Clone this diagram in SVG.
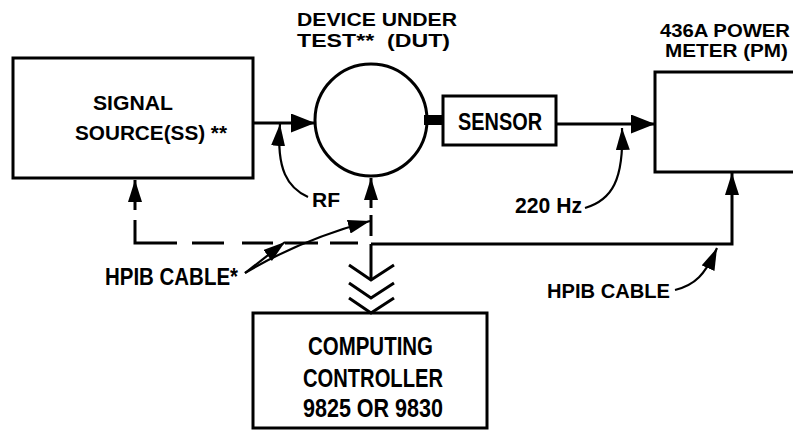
<svg xmlns="http://www.w3.org/2000/svg" width="793" height="431" viewBox="0 0 793 431">
<style>
.box{fill:none;stroke:#000;stroke-width:3}
.ln{fill:none;stroke:#000;stroke-width:3}
.thin{fill:none;stroke:#000;stroke-width:2.2}
.t{font-family:"Liberation Sans",Arial,sans-serif;font-weight:bold;fill:#000}
</style>
<defs>
<marker id="big" viewBox="0 0 24 19" refX="24" refY="9.5" markerWidth="24" markerHeight="19" markerUnits="userSpaceOnUse" orient="auto"><path d="M0,0 L24,9.5 L0,19 z" fill="#000"/></marker>
<marker id="sm" viewBox="0 0 22 14" refX="22" refY="7" markerWidth="22" markerHeight="14" markerUnits="userSpaceOnUse" orient="auto"><path d="M0,0 L22,7 L0,14 z" fill="#000"/></marker>
</defs>
<rect width="793" height="431" fill="#fff"/>

<g id="signal-source">
<rect class="box" x="13" y="58" width="240" height="120"/>
<text class="t" x="93" y="110" font-size="20" textLength="80" lengthAdjust="spacingAndGlyphs">SIGNAL</text>
<text class="t" x="75" y="140" font-size="20" textLength="152" lengthAdjust="spacingAndGlyphs">SOURCE(SS) **</text>
</g>

<g id="dut">
<circle class="box" cx="371" cy="120" r="56"/>
<text class="t" x="297" y="26" font-size="18.5" textLength="160" lengthAdjust="spacingAndGlyphs">DEVICE UNDER</text>
<text class="t" x="297" y="47" font-size="18.5" textLength="153" lengthAdjust="spacingAndGlyphs" xml:space="preserve">TEST**  (DUT)</text>
</g>

<g id="sensor">
<rect x="424" y="115" width="20" height="10" fill="#000"/>
<rect class="box" x="443" y="96" width="113" height="49"/>
<text class="t" x="458" y="130" font-size="23" textLength="84" lengthAdjust="spacingAndGlyphs">SENSOR</text>
</g>

<g id="power-meter">
<path class="box" d="M800,72 H655 V172 H800"/>
<text class="t" x="660" y="37" font-size="17.5" textLength="130" lengthAdjust="spacingAndGlyphs">436A POWER</text>
<text class="t" x="665" y="57" font-size="17.5" textLength="123" lengthAdjust="spacingAndGlyphs">METER (PM)</text>
</g>

<g id="controller">
<rect class="box" x="253" y="313" width="234" height="115"/>
<text class="t" x="308" y="355" font-size="25" textLength="125" lengthAdjust="spacingAndGlyphs">COMPUTING</text>
<text class="t" x="303" y="387" font-size="25" textLength="140" lengthAdjust="spacingAndGlyphs">CONTROLLER</text>
<text class="t" x="303" y="417" font-size="25" textLength="140" lengthAdjust="spacingAndGlyphs">9825 OR 9830</text>
</g>

<g id="connectors">
<path class="ln" d="M253,123 H315" marker-end="url(#big)"/>
<path class="ln" d="M556,124 H655" marker-end="url(#big)"/>
<path class="ln" d="M135,210 V180" marker-end="url(#sm)"/>
<path class="ln" d="M371,208 V178" marker-end="url(#sm)"/>
<path class="ln" d="M371,244 H732 V173" marker-end="url(#sm)"/>
<path class="ln" d="M135,220 V243 H177 M192,243 H224 M242,243 H273 M285,243 H318 M330,243 H358 M371,215 V236"/>
<path class="ln" d="M371,244 V280"/>
<path class="ln" d="M349,265 L371,280 L394,265 M349,283 L371,298 L394,283 M349,298 L371,313 L394,298"/>
</g>

<g id="labels">
<path class="thin" d="M308,197 C288,188 276,170 280,124" marker-end="url(#sm)"/>
<text class="t" x="312" y="207" font-size="21" textLength="28" lengthAdjust="spacingAndGlyphs">RF</text>
<path class="thin" d="M585,208 C612,200 624,180 622,128" marker-end="url(#sm)"/>
<text class="t" x="515" y="213" font-size="22" textLength="67" lengthAdjust="spacingAndGlyphs">220 Hz</text>
<path class="thin" d="M245,273 L285,242" marker-end="url(#sm)"/>
<path class="thin" d="M245,273 Q300,240 370,221" marker-end="url(#sm)"/>
<text class="t" x="105" y="285" font-size="23" textLength="133" lengthAdjust="spacingAndGlyphs">HPIB CABLE*</text>
<path class="thin" d="M675,290 C695,285 705,275 717,248" marker-end="url(#sm)"/>
<text class="t" x="547" y="298" font-size="21" textLength="123" lengthAdjust="spacingAndGlyphs">HPIB CABLE</text>
</g>
</svg>
